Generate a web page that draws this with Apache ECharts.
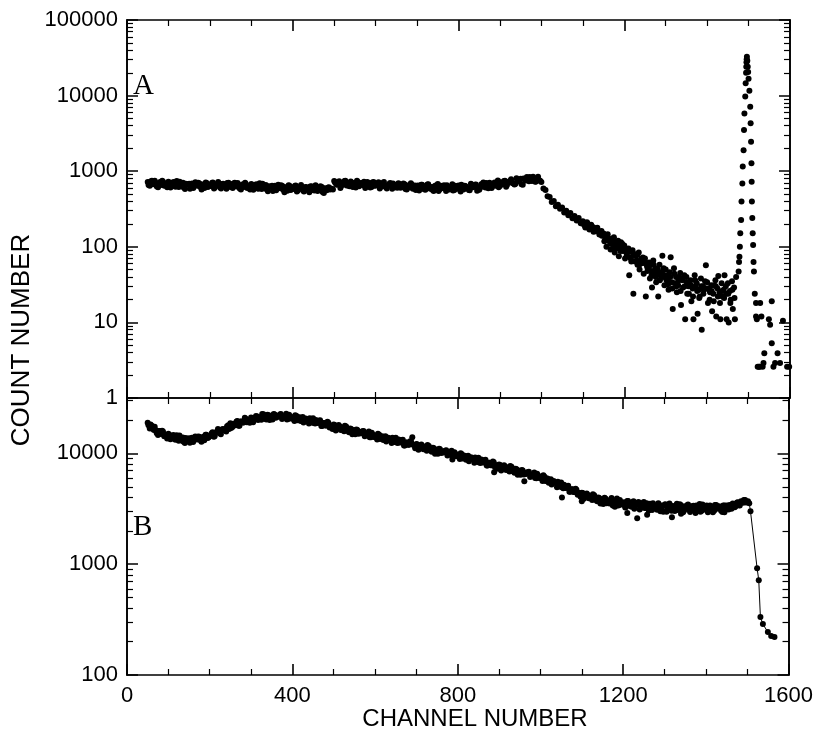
<!DOCTYPE html>
<html><head><meta charset="utf-8">
<script src="https://cdn.jsdelivr.net/npm/echarts@6/dist/echarts.min.js"></script>
<style>html,body{margin:0;padding:0;background:#fff}#c{width:816px;height:737px}</style>
</head><body><div id="c"></div>
<script>
// ---------- Panel A (top) ----------
const aStart = 50, aStep = 5;
const aCounts = [
 718,640,748,670,689,612,719,750,640,665,
 724,608,686,637,741,620,658,702,582,665,
 683,631,598,715,644,689,572,670,709,618,
 637,696,592,657,722,611,676,631,585,702,
 674,601,702,629,646,574,674,704,600,624,
 678,570,643,597,694,581,616,657,545,622,
 641,590,558,664,596,636,528,618,652,566,
 583,636,540,598,656,555,613,570,528,633,
 562,654,547,580,618,513,587,603,572,580,
 742,671,721,598,700,741,646,666,728,619,
 685,750,634,699,650,601,719,691,616,719,
 645,663,589,691,722,616,640,696,584,659,
 657,693,602,619,674,571,632,693,585,645,
 599,554,663,636,567,665,598,616,549,647,
 677,578,600,652,548,620,578,674,566,602,
 646,539,620,641,594,566,680,615,661,552,
 567,672,708,610,641,704,598,682,641,755,
 639,686,740,622,720,749,698,669,807,734,
 793,664,785,838,737,767,845,723,798,760,
 720,590,565,465,455,392,402,345,360,318,
 330,284,300,262,280,238,255,222,240,205,
 218,190,212,176,195,182,160,178,145,162,
 150,128,146,120,115,134,104,120,96,110,
 104,84,95,72,90,80,66,84,60,72,
 70,55,62,48,66,52,44,58,40,52,
 50,38,46,34,52,40,31,45,36,42,
 40,30,36,28,42,33,27,38,30,35,
 34,27,31,24,36,28,25,33,27,30,
 33,26,35,29,40
];
// second, interleaved run of channels (52, 57, ...) in the flat part
const a2Start = 52, a2Step = 5;
const a2Counts = [
 656,729,679,746,627,700,658,723,674,612,
 704,655,719,624,669,726,632,610,680,665,
 585,689,644,670,702,618,650,598,696,631,
 663,709,611,676,637,592,683,657,696,624,
 616,685,638,700,589,657,617,678,632,573,
 659,613,674,584,626,683,595,576,634,622,
 549,644,600,622,650,570,600,552,640,578,
 607,647,557,616,581,540,619,594,628,563,
 556,619,576,632,532,593,558,614,590,573,
 709,664,734,639,687,748,653,632,707,694,
 610,717,667,692,724,635,666,611,708,640,
 671,715,616,678,627,590,671,651,686,614,
 606,674,628,689,580,649,607,668,622,564,
 649,604,663,575,616,671,586,567,634,622,
 549,644,600,622,650,572,602,554,644,584,
 616,661,572,634,600,560,649,627,668,602,
 599,672,632,700,595,672,637,708,668,613,
 714,672,747,657,713,784,691,676,763,756,
 673,800,754,792,838,744,790,731,845,747
];
const aMidStart = 1101, aMidStep = 5;
const aMidCounts = [
 200,180,205,170,188,158,175,165,148,140,
 140,122,132,110,128,98,116,105,88,100,
 92,76,88,70,82,64,78,58,70,62,
 60,48,56,42,58,40,50,36,46,40,
 42,32,40,28,44,30,36,26,38,30,
 34,24,31,22,36,26,21,30,24,28,
 28,20,26,19,30,22,18,26,21,24,
 24,18,27,21
];
const aLowStart = 1152, aLowStep = 5;
const aLowCounts = [
 118,100,126,92,108,84,96,75,115,88,
 70,82,42,64,24,76,58,50,68,44,
 22,52,38,29,46,34,22,42,76,31,
 36,27,73,15,33,25,40,17,29,11,
 24,32,19,11,30,13,22,8,27,57,
 18,25,14,31,12,41,11,22,42,11,
 10,20,15,11
];
const aPeakChannels = [
 1476,1477,1478,1479,1480,1482,1483,1485,1486,1488,1489,1490,1492,1493,1494,1494.5,1495,1495.5,1496,
 1497,1498,1499,1500,1502,1504,1505,1506,1507,1507.5,1508,1509,1510,1511,1512,1513,1515,1518,1518,
 1520,1522,1525,1527,1528,1531,1534,1536,1538,1549,1552,1556,1556,1560,1564,1570,1576,1583,1593,1598
];
const aPeakCounts = [
 47,63,74,100,151,226,398,690,1150,1900,3500,5800,9700,14600,20000,24100,27600,30200,32700,
 29000,24100,20500,16700,11600,7100,4300,2450,1270,725,398,240,151,106,63,47,24,18,12,
 11,2.6,2.6,2.6,18,12,2.6,2.9,3.9,11,9.3,19,5.3,2.6,2.9,3.9,2.9,10.5,2.6,2.6
];

// ---------- Panel B (bottom) ----------
const bStart = 50, bStep = 5;
const bCounts = [
 18870,16800,17750,16240,16160,14660,15910,16050,14260,14500,
 15020,13400,14230,13520,14610,13010,13450,13940,12420,13430,
 13700,13030,12680,14200,13370,14140,12740,14130,14700,13770,
 14260,15240,14160,15350,16590,15170,16420,16070,15750,17960,
 18670,17270,18150,19370,17810,19430,18960,20970,19060,20100,
 21110,19070,20910,21480,20580,20090,22530,21140,22310,20000,
 21980,22680,20950,21380,22410,20430,21660,22840,20400,21570,
 20580,19600,21740,20960,19580,21260,19900,20150,18610,20380,
 20760,18620,19000,19740,17670,18770,17840,19260,17140,17700,
 18200,16120,17320,17490,16470,15810,17460,16150,16800,14860,
 16140,16440,15040,15200,15810,14290,15040,15770,14020,14740,
 14020,13320,14720,14160,13190,14290,13340,13470,12410,13590,
 13850,12430,12680,13190,11810,12560,11940,12900,14000,11820,
 12170,10770,11580,11690,11020,10570,11680,10800,11230,9940,
 10790,11000,10060,10170,10580,9560,10060,10550,9370,9860,
 9380,8890,9830,9440,8780,9500,8860,8940,8230,9000,
 9150,8200,8360,8670,7760,8240,7830,8450,7500,7720,
 7940,7010,7530,7600,7140,6850,7560,6980,7250,6410,
 6960,7080,6460,6520,6770,6120,6430,6740,5980,6280,
 5980,5630,6170,5900,5440,5850,5420,5430,4960,5400,
 5450,4850,4910,5060,4500,4740,4480,4800,4230,4330,
 4420,3900,4180,4210,3960,3790,4180,3850,3990,3530,
 3860,3980,3550,3640,3840,3390,3660,3920,3400,3630,
 3440,3250,3720,3590,3300,3690,3400,3440,3120,3540,
 3650,3210,3330,3520,3080,3400,3200,3550,3090,3310,
 3440,2980,3340,3390,3160,3020,3510,3210,3400,2940,
 3330,3410,3090,3150,3370,3010,3230,3490,3040,3300,
 3100,2940,3390,3300,3040,3430,3180,3250,2960,3390,
 3380,3110,3370,3530,3270,3590,3410,3690,3580,3790,
 3620,3550
];
// second, interleaved run of channels (52, 57, ...)
const b2Start = 52, b2Step = 5;
const b2Counts = [
 17950,18200,16730,17380,15200,15910,14990,15750,14700,13630,
 14730,13960,14650,13250,13790,14500,13050,12730,13750,13430,
 12500,13830,13220,13670,14180,13190,13700,13160,14700,13920,
 14540,15530,14300,15660,15350,14850,16580,16560,17590,16590,
 16930,18510,17970,19560,17810,19430,18960,20580,19850,18890,
 20910,20300,21740,20020,21210,22630,20610,20280,22090,21720,
 20260,22460,21380,22030,22630,20860,21450,20280,22310,20730,
 21210,22100,19870,21170,20200,19040,20700,20150,20790,19010,
 18820,19970,18810,19930,17670,18770,17840,18900,17850,16640,
 18030,17160,18010,16300,16980,17800,15980,15490,16630,16140,
 14870,16290,15350,15660,15960,14590,14890,14000,15330,14160,
 14450,15020,13460,14300,13600,12790,13870,13470,13860,12680,
 12550,13320,12550,13310,11810,12560,11940,12660,11940,11110,
 12050,11460,12040,10900,11350,11910,10690,10360,11120,10800,
 9950,10900,10270,10480,10680,9760,9960,9370,10250,9480,
 9670,10030,8990,9530,9060,8510,9220,8940,9190,8390,
 8290,8790,8280,8760,7760,8240,7830,8300,7810,7260,
 7860,7460,7830,7080,7360,7710,6920,6700,7180,6960,
 6410,7010,6590,6720,6840,6250,6370,5990,6540,6040,
 6160,6350,5640,5950,5610,5240,5630,5430,5540,5030,
 4940,5200,4860,5110,4500,4740,4480,4710,4410,4070,
 4380,4150,4350,3930,4080,4270,3820,3700,3960,3840,
 3490,3910,3740,3530,3950,3570,3730,3380,3790,3520,
 3620,3280,3720,3390,3610,3170,3460,3650,3220,3470,
 3220,3540,3060,3420,3540,3230,3100,3450,3320,2980,
 3480,3170,3530,3030,3330,3380,3090,3470,3180,3040,
 3170,3450,2960,3340,3080,3390,3170,2980,3460,3260,
 3390,3100,3260,2940,3420,3180,3340,3030,3380,3170,
 3190,3430,3170,3430,3340,3630,3380,3620,3800,3610,
 3700
];
const bDropChannels = [1508,1524,1528,1532,1538,1550,1558,1566];
const bDropCounts   = [3000,920,718,333,288,244,225,220];
const bOutChannels = [787,888,961,1052,1234,1258,1318,1100,1180,1290,1375,1445,1210,1340];
const bOutCounts   = [8800,6760,5600,4000,2600,2800,2650,3700,3300,3000,2900,2950,2900,2850];

// ---------- Axis ticks ----------
const topMajor = [1,10,100,1000,10000,100000];
const botMajor = [100,1000,10000];
const xTickLabels = [0,400,800,1200,1600];

const topMinor = [];
for (let d = 1; d < 100000; d *= 10) for (let k = 2; k <= 9; k++) topMinor.push(d * k);
const botMinor = [];
for (const d of [100,1000,10000]) for (let k = 2; k <= 9; k++) if (d * k < 31600) botMinor.push(d * k);

function seq(start, step, counts) { return counts.map((v, i) => [start + i * step, v]); }
function pairs(chs, cts) { return chs.map((c, i) => [c, cts[i]]); }

const axLine = { color: '#000', width: 1.6 };
const font = { fontFamily: 'Liberation Sans', fontSize: 22, color: '#000' };

function xAx(gridIndex, position, showLabel) {
  return {
    type: 'value', gridIndex, position, min: 0, max: 1600, interval: 400,
    axisLine: { show: true, onZero: false, lineStyle: axLine },
    axisTick: { show: true, inside: true, length: 11, lineStyle: axLine },
    minorTick: { show: true, splitNumber: 4, length: 6, lineStyle: { color: '#000', width: 1.2 } },
    splitLine: { show: false }, minorSplitLine: { show: false },
    axisLabel: { show: showLabel, margin: 10, ...font, customValues: xTickLabels, formatter: v => String(v) }
  };
}
function yAx(gridIndex, position, min, max, ticks, len, showLabel) {
  return {
    type: 'log', logBase: 10, gridIndex, position, min, max,
    axisLine: { show: true, onZero: false, lineStyle: axLine },
    axisTick: { show: true, inside: true, length: len, customValues: ticks, lineStyle: { color: '#000', width: len > 8 ? 1.5 : 1.2 } },
    minorTick: { show: false }, splitLine: { show: false },
    axisLabel: { show: showLabel, margin: 9, ...font, customValues: ticks, formatter: v => String(Math.round(v)) }
  };
}

const dot = { color: '#000', opacity: 1 };
const sz = 6;
function sc(xi, yi, data) {
  return { type: 'scatter', xAxisIndex: xi, yAxisIndex: yi, data, symbolSize: sz, itemStyle: dot, silent: true };
}
const chart = echarts.init(document.getElementById('c'), null, { renderer: 'canvas' });
chart.setOption({
  animation: false,
  backgroundColor: '#fff',
  grid: [
    { left: 127, right: 26, top: 20, height: 378 },
    { left: 127, right: 26, top: 398, height: 277 }
  ],
  xAxis: [
    xAx(0, 'bottom', false), xAx(0, 'top', false),
    xAx(1, 'bottom', true), xAx(1, 'top', false)
  ],
  yAxis: [
    yAx(0, 'left', 1, 100000, topMajor, 11, true),
    yAx(0, 'right', 1, 100000, topMajor, 11, false),
    yAx(0, 'left', 1, 100000, topMinor, 6, false),
    yAx(0, 'right', 1, 100000, topMinor, 6, false),
    yAx(1, 'left', 100, 31622.78, botMajor, 11, true),
    yAx(1, 'right', 100, 31622.78, botMajor, 11, false),
    yAx(1, 'left', 100, 31622.78, botMinor, 6, false),
    yAx(1, 'right', 100, 31622.78, botMinor, 6, false)
  ],
  series: [
    sc(0, 0, seq(aStart, aStep, aCounts)),
    sc(0, 0, seq(a2Start, a2Step, a2Counts)),
    sc(0, 0, seq(aMidStart, aMidStep, aMidCounts)),
    sc(0, 0, seq(aLowStart, aLowStep, aLowCounts)),
    sc(0, 0, pairs(aPeakChannels, aPeakCounts)),
    { type: 'line', xAxisIndex: 2, yAxisIndex: 4, data: seq(bStart, bStep, bCounts).concat(pairs(bDropChannels, bDropCounts)),
      symbol: 'circle', symbolSize: sz, showAllSymbol: true, itemStyle: dot, lineStyle: { color: '#000', width: 1 }, silent: true },
    sc(2, 4, seq(b2Start, b2Step, b2Counts)),
    sc(2, 4, pairs(bOutChannels, bOutCounts))
  ],
  graphic: [
    { type: 'text', x: 22, y: 340, rotation: Math.PI / 2, style: { text: 'COUNT NUMBER', fill: '#000', font: '26px "Liberation Sans"', align: 'center', verticalAlign: 'middle' } },
    { type: 'text', x: 475, y: 719, style: { text: 'CHANNEL NUMBER', fill: '#000', font: '24px "Liberation Sans"', align: 'center', verticalAlign: 'middle' } },
    { type: 'text', x: 133, y: 86, style: { text: 'A', fill: '#000', font: '29px "Liberation Serif"', align: 'left', verticalAlign: 'middle' } },
    { type: 'text', x: 133, y: 527, style: { text: 'B', fill: '#000', font: '29px "Liberation Serif"', align: 'left', verticalAlign: 'middle' } }
  ]
});
</script>
</body></html>
